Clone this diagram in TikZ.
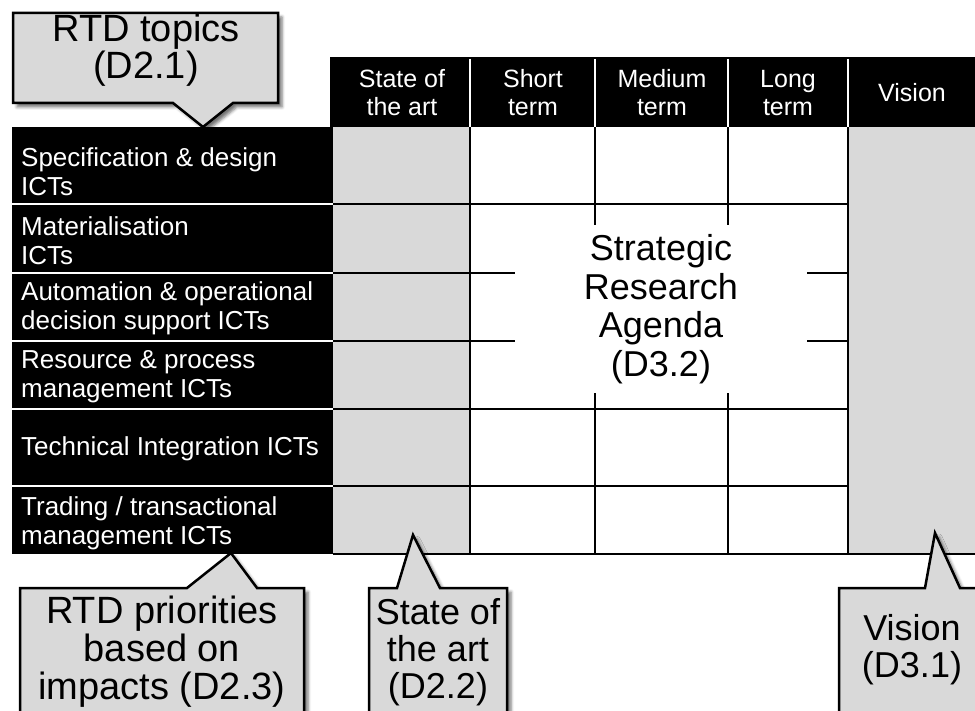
\documentclass[tikz,border=0pt]{standalone}
\usepackage{fontspec}
\setmainfont{Liberation Sans}
\usetikzlibrary{shadows.blur}
\definecolor{cellgray}{HTML}{D9D9D9}
\begin{document}
\begin{tikzpicture}[x=1pt,y=-1pt,
  callout/.style={draw=black, line width=2.5pt, fill=cellgray, line join=miter,
    blur shadow={shadow xshift=4pt, shadow yshift=-4pt, shadow blur radius=3pt, shadow opacity=55}},
  gridline/.style={line width=2pt, draw=black},
  sepline/.style={line width=2pt, draw=white},
  rowtext/.style={text=white, font=\fontsize{26}{29}\selectfont, align=left, anchor=west, inner sep=0pt},
  headtext/.style={text=white, font=\fontsize{25}{28}\selectfont, align=center, inner sep=0pt},
  bigtext/.style={font=\fontsize{36}{38.5}\selectfont, align=center, inner sep=0pt}]
\useasboundingbox (0,0) rectangle (975,711);
% header band and left column
\fill[black] (330,57) rectangle (975,127);
\fill[black] (12,127) rectangle (333,554);
% gray columns
\fill[cellgray] (333,127) rectangle (470,554);
\fill[cellgray] (848,127) rectangle (975,554);
% grid
\foreach \yy in {204,273,341,409,486} { \draw[gridline] (333,\yy) -- (848,\yy); }
\draw[gridline] (333,554) -- (975,554);
\foreach \xx in {470,595,728,848} { \draw[gridline] (\xx,127) -- (\xx,554); }
% SRA white area
\fill[white] (515,225) rectangle (807,393);
% white separators
\foreach \xx in {470,595,728,848} { \draw[sepline] (\xx,59) -- (\xx,127); }
\foreach \yy in {204,273,341,409,486} { \draw[sepline] (12,\yy) -- (333,\yy); }
% header text
\node[headtext] (h1) at (402,93) {State of\\the art};
\node[headtext] (h2) at (533,93) {Short\\term};
\node[headtext] (h3) at (662,93) {Medium\\term};
\node[headtext] (h4) at (788,93) {Long\\term};
\node[headtext] (h5) at (912,93) {Vision};
% row text
\node[rowtext] (r1) at (21,172) {Specification \& design\\ICTs};
\node[rowtext] (r2) at (21,241) {Materialisation\\ICTs};
\node[rowtext] (r3) at (21,308) {Automation \& operational\\decision support ICTs};
\node[rowtext] (r4) at (21,377) {Resource \& process\\management ICTs};
\node[rowtext] (r5) at (21,449) {Technical Integration ICTs};
\node[rowtext] (r6) at (21,523) {Trading / transactional\\management ICTs};
% SRA
\node[bigtext] (sra) at (661,309) {Strategic\\Research\\Agenda\\(D3.2)};
% callouts
\path[callout] (13,13) -- (278,13) -- (278,103) -- (233,103) -- (203,127) -- (173,103) -- (13,103) -- cycle;
\node[bigtext, font=\fontsize{38}{34}\selectfont] (c1) at (146,50) {RTD topics\\(D2.1)};
\path[callout] (20,588) -- (187,588) -- (231,553) -- (257,588) -- (304,588) -- (304,730) -- (20,730) -- cycle;
\node[bigtext, font=\fontsize{38}{38}\selectfont] (c2) at (162,652) {RTD priorities\\based on\\impacts (D2.3)};
\path[callout] (369,588) -- (397,588) -- (413,535) -- (440,588) -- (507,588) -- (507,730) -- (369,730) -- cycle;
\node[bigtext, font=\fontsize{36}{37}\selectfont] (c3) at (438,652) {State of\\the art\\(D2.2)};
\path[callout] (839,588) -- (925,588) -- (935,533) -- (960,588) -- (990,588) -- (990,730) -- (839,730) -- cycle;
\node[bigtext, font=\fontsize{36}{37}\selectfont] (c4) at (912,650) {Vision\\(D3.1)};
\end{tikzpicture}
\end{document}
